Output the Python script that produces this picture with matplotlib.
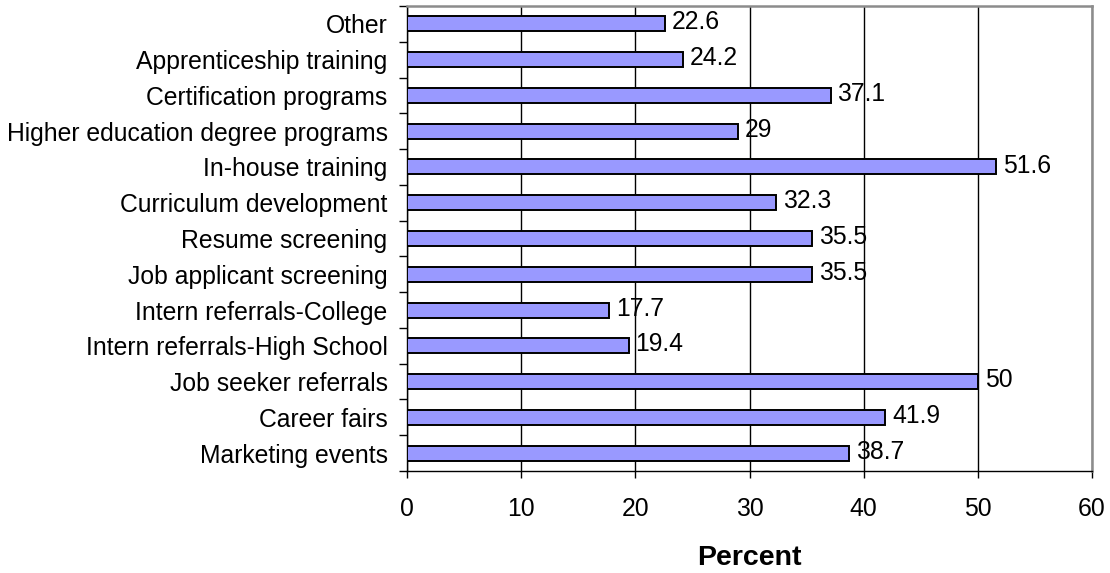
import numpy as np
import matplotlib.pyplot as plt
from matplotlib.ticker import FixedLocator

plt.rcParams['font.family'] = ['Liberation Sans', 'DejaVu Sans']

# bottom-to-top order
categories = ['Marketing events', 'Career fairs', 'Job seeker referrals',
              'Intern referrals-High School', 'Intern referrals-College',
              'Job applicant screening', 'Resume screening',
              'Curriculum development', 'In-house training',
              'Higher education degree programs', 'Certification programs',
              'Apprenticeship training', 'Other']
percent = [38.7, 41.9, 50, 19.4, 17.7, 35.5, 35.5, 32.3, 51.6, 29, 37.1, 24.2, 22.6]
value_labels = ['38.7', '41.9', '50', '19.4', '17.7', '35.5', '35.5',
                '32.3', '51.6', '29', '37.1', '24.2', '22.6']

fig = plt.figure(figsize=(11.1, 5.73), dpi=100)
ax = fig.add_axes([0.3667, 0.178, 0.6171, 0.8115])

y = np.arange(len(categories))
ax.barh(y, percent, height=0.42, color='#9999FF', edgecolor='black',
        linewidth=1.4, zorder=3)
for yi, v, lab in zip(y, percent, value_labels):
    ax.text(v + 0.6, yi + 0.04, lab, va='center', ha='left', fontsize=17.8, zorder=4)

ax.set_xlim(0, 60)
ax.set_ylim(-0.5, len(categories) - 0.5)
ax.set_xticks(np.arange(0, 61, 10))
ax.set_yticks(y)
ax.set_yticklabels(categories)
ax.yaxis.set_minor_locator(FixedLocator(np.arange(-0.5, len(categories), 1)))
ax.tick_params(axis='y', which='major', length=0, pad=14, labelsize=17.8)
ax.tick_params(axis='y', which='minor', length=6, width=1, direction='out')
ax.tick_params(axis='x', length=5, width=1, direction='out', pad=14, labelsize=17.8)

ax.xaxis.grid(True, color='black', linewidth=1, zorder=0)
for side in ('top', 'right'):
    ax.spines[side].set_color('#8c8c8c')
    ax.spines[side].set_linewidth(1.8)
for side in ('left', 'bottom'):
    ax.spines[side].set_color('black')
    ax.spines[side].set_linewidth(1)

ax.set_xlabel('Percent', fontsize=20.5, fontweight='bold', labelpad=17)

fig.savefig('out.png', dpi=100)
